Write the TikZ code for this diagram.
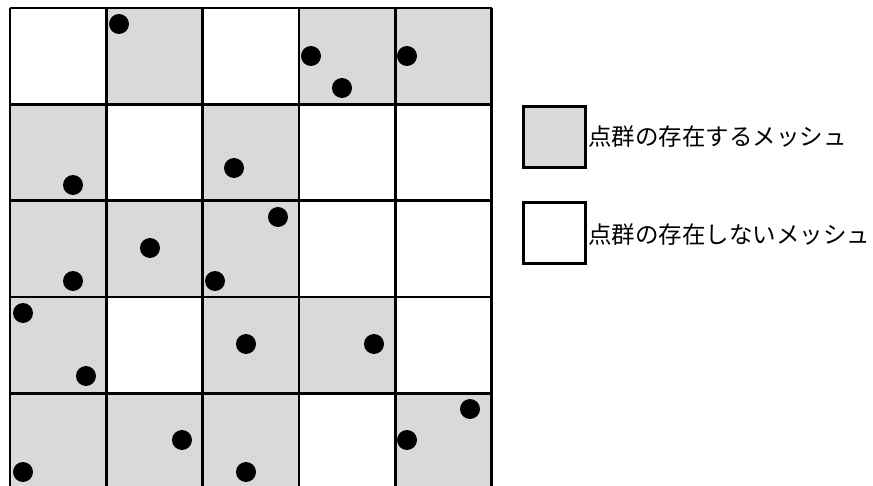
\documentclass[tikz,border=0pt]{standalone}
\usepackage{fontspec}
\newfontfamily\jfont{Noto Sans CJK JP}
\definecolor{meshgray}{HTML}{D9D9D9}
\tikzset{
  cellfill/.style={fill=meshgray},
  gridline/.style={line width=2.6pt, draw=black},
  pt/.style={fill=black},
  legbox/.style={draw=black, line width=2.6pt, minimum width=62pt, minimum height=61pt, inner sep=0pt},
  legtext/.style={font=\jfont\fontsize{23.5}{25}\selectfont, anchor=west, inner sep=0pt}
}
\begin{document}
\begin{tikzpicture}[x=1pt,y=-1pt]
\useasboundingbox (0,0) rectangle (873,486);
\def\cs{96.3}
% gray cells (row, col)
\foreach \r/\c in {0/1,0/3,0/4,1/0,1/2,2/0,2/1,2/2,3/0,3/2,3/3,4/0,4/1,4/2,4/4}{
  \fill[cellfill] ({10+\c*\cs},{8+\r*\cs}) rectangle ++(\cs,\cs);
}
% grid
\foreach \i in {0,...,5}{
  \draw[gridline] ({10+\i*\cs},8) -- ({10+\i*\cs},{8+5*\cs});
  \draw[gridline] (10,{8+\i*\cs}) -- ({10+5*\cs},{8+\i*\cs});
}
% points
\foreach \x/\y in {119/24, 311/56, 342/88, 407/56,
                   73/185, 234/168,
                   73/281, 150/248, 278/217, 215/281,
                   23/313, 86/376, 246/344, 374/344,
                   23/472, 182/440, 246/472, 470/409, 407/440}{
  \fill[pt] (\x,\y) circle (10);
}
% legend
\node[legbox, fill=meshgray] (g) at (554.5,137) {};
\node[legtext] (gt) at (588,137) {点群の存在するメッシュ};
\node[legbox, fill=white] (w) at (554.5,233) {};
\node[legtext] (wt) at (588,235) {点群の存在しないメッシュ};
\end{tikzpicture}
\end{document}
